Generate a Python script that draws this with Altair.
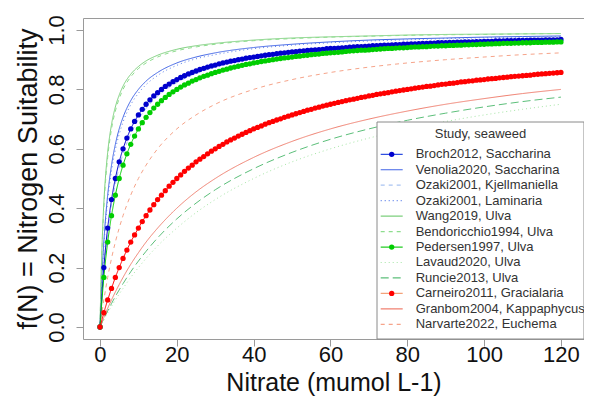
import altair as alt
import pandas as pd

# ---------------- data ----------------
names = [
    "Broch2012, Saccharina",
    "Venolia2020, Saccharina",
    "Ozaki2001, Kjellmaniella",
    "Ozaki2001, Laminaria",
    "Wang2019, Ulva",
    "Bendoricchio1994, Ulva",
    "Pedersen1997, Ulva",
    "Lavaud2020, Ulva",
    "Runcie2013, Ulva",
    "Carneiro2011, Gracialaria",
    "Granbom2004, Kappaphycus",
    "Narvarte2022, Euchema",
]

# series drawn with dots (one dot per integer nitrate value 0..120)
x_dots = list(range(121))

broch = [0, .2, .333, .429, .5, .556, .6, .636, .667, .692, .714, .733, .75, .765, .778, .789, .8, .81, .818, .826,
         .833, .84, .846, .852, .857, .862, .867, .871, .875, .879, .882, .886, .889, .892, .895, .897, .9, .902, .905, .907,
         .909, .911, .913, .915, .917, .918, .92, .922, .923, .925, .926, .927, .929, .93, .931, .932, .933, .934, .935, .937,
         .938, .938, .939, .94, .941, .942, .943, .944, .944, .945, .946, .947, .947, .948, .949, .949, .95, .951, .951, .952,
         .952, .953, .953, .954, .955, .955, .956, .956, .957, .957, .957, .958, .958, .959, .959, .96, .96, .96, .961, .961,
         .962, .962, .962, .963, .963, .963, .964, .964, .964, .965, .965, .965, .966, .966, .966, .966, .967, .967, .967, .967,
         .968]

pedersen = [0, .167, .286, .375, .444, .5, .545, .583, .615, .643, .667, .688, .706, .722, .737, .75, .762, .773, .783, .792,
            .8, .808, .815, .821, .828, .833, .839, .844, .848, .853, .857, .861, .865, .868, .872, .875, .878, .881, .884, .886,
            .889, .891, .894, .896, .898, .9, .902, .904, .906, .907, .909, .911, .912, .914, .915, .917, .918, .919, .921, .922,
            .923, .924, .925, .926, .928, .929, .93, .931, .932, .932, .933, .934, .935, .936, .937, .938, .938, .939, .94, .94,
            .941, .942, .943, .943, .944, .944, .945, .946, .946, .947, .947, .948, .948, .949, .949, .95, .95, .951, .951, .952,
            .952, .953, .953, .954, .954, .955, .955, .955, .956, .956, .957, .957, .957, .958, .958, .958, .959, .959, .959, .96,
            .96]

carneiro = [0, .048, .091, .13, .167, .2, .231, .259, .286, .31, .333, .355, .375, .394, .412, .429, .444, .459, .474, .487,
            .5, .512, .524, .535, .545, .556, .565, .574, .583, .592, .6, .608, .615, .623, .63, .636, .643, .649, .655, .661,
            .667, .672, .677, .683, .688, .692, .697, .701, .706, .71, .714, .718, .722, .726, .73, .733, .737, .74, .744, .747,
            .75, .753, .756, .759, .762, .765, .767, .77, .773, .775, .778, .78, .783, .785, .787, .789, .792, .794, .796, .798,
            .8, .802, .804, .806, .808, .81, .811, .813, .815, .817, .818, .82, .821, .823, .825, .826, .828, .829, .831, .832,
            .833, .835, .836, .837, .839, .84, .841, .843, .844, .845, .846, .847, .848, .85, .851, .852, .853, .854, .855, .856,
            .857]

# series drawn as plain lines
x_line = [0, 0.25, 0.5, 1, 1.5, 2, 3, 4, 5, 6, 8, 10, 12, 15, 20, 25, 30, 40, 50, 60, 70, 80, 90, 100, 110, 120]

venolia = [0, .091, .167, .286, .375, .444, .545, .615, .667, .706, .762, .8, .828, .857, .889, .909, .923, .941, .952,
           .96, .966, .97, .973, .976, .978, .98]
ozaki_kj = [0, .055, .104, .189, .259, .317, .411, .482, .538, .583, .65, .699, .736, .777, .823, .853, .875, .903, .921,
            .933, .942, .949, .954, .959, .962, .965]
ozaki_lam = [0, .085, .156, .27, .357, .426, .526, .597, .649, .69, .748, .787, .816, .847, .881, .903, .917, .937, .949,
             .957, .963, .967, .971, .974, .976, .978]
wang = [0, .152, .263, .417, .517, .588, .682, .741, .781, .811, .851, .877, .896, .915, .935, .947, .955, .966, .973,
        .977, .98, .983, .985, .986, .987, .988]
bendoricchio = [0, .143, .25, .4, .5, .571, .667, .727, .769, .8, .842, .87, .889, .909, .93, .943, .952, .964, .971,
                .976, .979, .982, .984, .985, .987, .988]
lavaud = [0, .006, .012, .024, .036, .048, .07, .091, .111, .13, .167, .2, .231, .273, .333, .385, .429, .5, .556,
          .6, .636, .667, .692, .714, .733, .75]
runcie = [0, .007, .014, .028, .041, .054, .079, .103, .125, .146, .186, .222, .255, .3, .364, .417, .462, .533, .588,
          .632, .667, .696, .72, .741, .759, .774]
granbom = [0, .008, .016, .032, .048, .063, .091, .118, .143, .167, .211, .25, .286, .333, .4, .455, .5, .571, .625,
           .667, .7, .727, .75, .769, .786, .8]
narvarte = [0, .024, .048, .091, .13, .167, .231, .286, .333, .375, .444, .5, .545, .6, .667, .714, .75, .8, .833,
            .857, .875, .889, .9, .909, .917, .923]

x_ticks = [0, 20, 40, 60, 80, 100, 120]
y_ticks = [0.0, 0.2, 0.4, 0.6, 0.8, 1.0]

# ---------------- styles ----------------
plot_colors = ["#0000CD", "#3F63E6", "#A9C3F2", "#5A7EEA", "#7CCF7C", "#8EDD8E",
               "#00CD00", "#A6E6A6", "#5CBF7A", "#FF0000", "#F08070", "#F6A48A"]
legend_colors = ["#2F4FE0", "#3F63E6", "#A9C3F2", "#5A7EEA", "#7CCF7C", "#8EDD8E",
                 "#22CC22", "#A6E6A6", "#5CBF7A", "#F4A27A", "#F08070", "#F6A48A"]
dot_colors = {"Broch2012, Saccharina": "#0000CD", "Pedersen1997, Ulva": "#00CD00",
              "Carneiro2011, Gracialaria": "#FF0000"}
SOLID, DASHED, DOTTED, LONGDASH = [1, 0], [4, 4], [1, 3], [8, 4]
dashes = [SOLID, SOLID, DASHED, DOTTED, SOLID, DASHED, SOLID, DOTTED, LONGDASH, SOLID, SOLID, DASHED]

# ---------------- tables ----------------
dot_series = {names[0]: broch, names[6]: pedersen, names[9]: carneiro}
line_series = {names[1]: venolia, names[2]: ozaki_kj, names[3]: ozaki_lam, names[4]: wang,
               names[5]: bendoricchio, names[7]: lavaud, names[8]: runcie, names[10]: granbom,
               names[11]: narvarte}

rows = []
for n, ys in line_series.items():
    rows += [{"study": n, "x": x, "y": y} for x, y in zip(x_line, ys)]
for n, ys in dot_series.items():
    rows += [{"study": n, "x": x, "y": y} for x, y in zip(x_dots, ys)]
df = pd.DataFrame(rows)
dots_df = df[df["study"].isin(list(dot_series))]

leg = pd.DataFrame({"study": names, "row": list(range(len(names))), "lcolor": legend_colors})
leg_dots = leg[leg["study"].isin(list(dot_series))].copy()
leg_dots["dcolor"] = [dot_colors[s] for s in leg_dots["study"]]

# ---------------- chart ----------------
W, H = 501, 321
x_scale = alt.Scale(domain=[-4.425, 126.0], nice=False, zero=False)
y_scale = alt.Scale(domain=[-0.0404, 1.0404], nice=False, zero=False)
color_scale = alt.Scale(domain=names, range=plot_colors)
dash_scale = alt.Scale(domain=names, range=dashes)

x_axis = alt.Axis(values=x_ticks, title="Nitrate (mumol L-1)", labelBaseline="alphabetic",
                  labelPadding=15, titleBaseline="alphabetic", titleY=51, titleFontSize=25,
                  ticks=True, tickSize=7, tickColor="#9a9a9a")
x_enc = alt.X("x:Q", scale=x_scale, axis=x_axis)
y_enc = alt.Y("y:Q", scale=y_scale,
              axis=alt.Axis(values=y_ticks, format=".1f", title="f(N) = Nitrogen Suitability",
                            labelAngle=270, labelAlign="center", labelBaseline="alphabetic",
                            labelPadding=13, titleAngle=270, titleBaseline="alphabetic",
                            titleX=-47, titleFontSize=27, ticks=True, tickSize=7,
                            tickColor="#9a9a9a"))

lines = alt.Chart(df).mark_line(strokeWidth=1, interpolate="monotone").encode(
    x=x_enc, y=y_enc,
    color=alt.Color("study:N", scale=color_scale, legend=None),
    strokeDash=alt.StrokeDash("study:N", scale=dash_scale, legend=None),
    detail="study:N",
)

points = alt.Chart(dots_df).mark_circle(size=28, opacity=1).encode(
    x=x_enc,
    y=alt.Y("y:Q", scale=y_scale, axis=None),
    color=alt.Color("study:N", scale=color_scale, legend=None),
)

one = pd.DataFrame({"k": [0]})
box = alt.Chart(one).mark_rect(fill="white", stroke="#8a8a8a", strokeWidth=1).encode(
    x=alt.value(294), x2=alt.value(W), y=alt.value(104), y2=alt.value(H))

leg_title = alt.Chart(one).mark_text(text="Study, seaweed", fontSize=13, font="Liberation Sans",
                                     color="#333333", align="center", baseline="middle").encode(
    x=alt.value(397.5), y=alt.value(116))

leg_y = alt.Y("row:Q", scale=alt.Scale(domain=[0, 11], range=[136.3, 306.3]), axis=None)

leg_lines = alt.Chart(leg).mark_rule(strokeWidth=1.2).encode(
    x=alt.value(297.7), x2=alt.value(319.7), y=leg_y,
    color=alt.Color("lcolor:N", scale=None, legend=None),
    strokeDash=alt.StrokeDash("study:N", scale=dash_scale, legend=None),
)

leg_pts = alt.Chart(leg_dots).mark_circle(size=28, opacity=1).encode(
    x=alt.value(308.7), y=leg_y,
    color=alt.Color("dcolor:N", scale=None, legend=None),
)

leg_text = alt.Chart(leg).mark_text(align="left", baseline="middle", fontSize=13,
                                    font="Liberation Sans", color="#333333").encode(
    x=alt.value(332.7), y=leg_y, text="study:N")

chart = alt.layer(lines, points, box, leg_title, leg_lines, leg_pts, leg_text).resolve_scale(
    y="independent", color="independent"
).properties(
    width=W, height=H,
    padding={"left": 75, "top": 10, "right": 0, "bottom": 62},
    autosize=alt.AutoSizeParams(type="none"),
).configure_view(
    stroke="#9a9a9a", strokeWidth=1
).configure_axis(
    grid=False, domain=False,
    labelFont="Liberation Sans", labelFontSize=22, labelColor="#111111",
    titleFont="Liberation Sans", titleFontWeight="normal", titleColor="#111111",
)

chart.save("out.html", embed_options={"renderer": "svg", "actions": False})
